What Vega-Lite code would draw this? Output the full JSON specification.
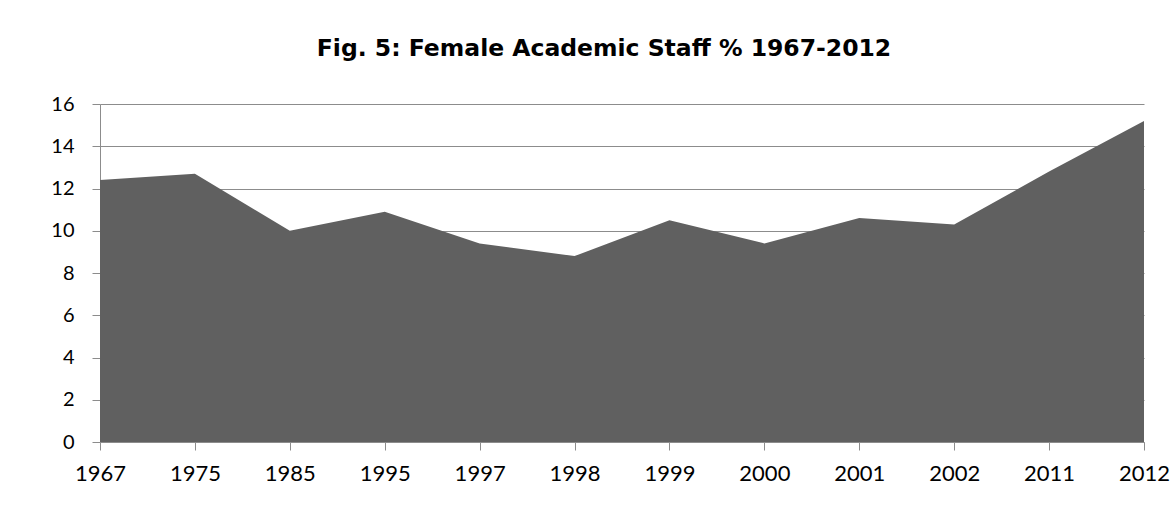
{
  "$schema": "https://vega.github.io/schema/vega-lite/v6.json",
  "autosize": "none",
  "width": 1044,
  "height": 338,
  "padding": {"left": 100, "top": 104, "right": 32, "bottom": 64},
  "background": "white",
  "title": {
    "text": "Fig. 5: Female Academic Staff % 1967-2012",
    "font": "DejaVu Sans",
    "fontSize": 23.5,
    "fontWeight": "bold",
    "color": "#000000",
    "anchor": "middle",
    "frame": "group",
    "baseline": "alphabetic",
    "offset": 15,
    "dx": -18
  },
  "data": {
    "values": [
      {"year": "1967", "pct": 12.4},
      {"year": "1975", "pct": 12.7},
      {"year": "1985", "pct": 10.0},
      {"year": "1995", "pct": 10.9},
      {"year": "1997", "pct": 9.4},
      {"year": "1998", "pct": 8.8},
      {"year": "1999", "pct": 10.5},
      {"year": "2000", "pct": 9.4},
      {"year": "2001", "pct": 10.6},
      {"year": "2002", "pct": 10.3},
      {"year": "2011", "pct": 12.8},
      {"year": "2012", "pct": 15.2}
    ]
  },
  "mark": {"type": "area", "color": "#606060", "opacity": 1},
  "encoding": {
    "x": {
      "field": "year",
      "type": "ordinal",
      "sort": null,
      "scale": {"type": "point", "padding": 0},
      "axis": {
        "title": null,
        "labelAngle": 0,
        "labelFont": "Lato",
        "labelFontSize": 22,
        "labelColor": "#000000",
        "labelPadding": 13,
        "tickSize": 8,
        "tickColor": "#8c8c8c",
        "domainColor": "#8c8c8c",
        "grid": false
      }
    },
    "y": {
      "field": "pct",
      "type": "quantitative",
      "scale": {"domain": [0, 16], "nice": false},
      "axis": {
        "title": null,
        "values": [0, 2, 4, 6, 8, 10, 12, 14, 16],
        "labelFont": "Lato",
        "labelFontSize": 20,
        "labelColor": "#000000",
        "labelPadding": 18,
        "tickSize": 8,
        "tickColor": "#8c8c8c",
        "domainColor": "#8c8c8c",
        "grid": true,
        "gridColor": "#8c8c8c",
        "gridWidth": 1
      }
    }
  },
  "config": {
    "view": {"stroke": null}
  }
}
